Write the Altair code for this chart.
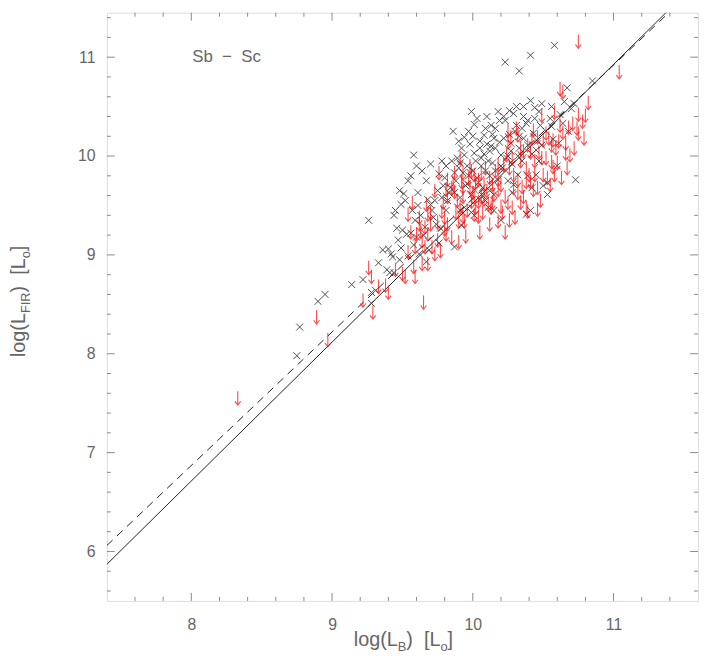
import altair as alt
import pandas as pd

# ---------------- data ----------------
cross_x = [8.75, 8.77, 8.90, 8.95, 9.14, 9.22, 9.26, 9.28, 9.31, 9.28, 9.39, 9.41, 9.44, 9.44, 9.42, 9.43, 9.40,
           9.99, 10.01, 9.86, 10.13, 9.94, 9.98, 10.05, 10.08, 9.58, 9.70, 9.56, 9.54, 9.67, 9.48, 9.51, 9.61,
           9.49, 9.61, 9.68, 9.70, 9.59, 9.46, 9.50, 9.53, 9.56, 9.74, 9.77, 9.81, 9.87, 9.49, 9.54, 9.67, 9.62,
           9.92, 10.20, 10.38, 10.41, 9.89, 9.91, 9.94, 10.01, 10.08, 10.12, 10.14, 10.09, 10.04, 10.01, 9.99,
           10.05, 10.09, 10.12, 9.90, 9.93, 9.97, 9.87, 9.84, 9.87, 9.91, 9.82, 9.94, 9.99, 10.01, 9.91, 10.11,
           10.15, 9.75, 9.78, 9.73, 9.78, 9.81,
           10.23, 10.33, 10.41, 10.58, 10.85, 10.67, 10.41, 10.49, 10.56, 10.72, 10.26, 10.29, 10.19, 10.23,
           10.36, 10.39, 10.38, 10.48, 10.52, 10.56, 10.16, 10.27, 10.33, 10.39, 10.45, 10.49, 10.20, 10.24,
           10.16, 10.21, 10.45, 10.73, 10.53, 10.15, 10.28, 10.42, 10.43, 10.57, 10.61, 10.53, 10.29, 10.18,
           10.25, 10.32, 10.39, 10.25, 10.27, 10.20,
           10.05, 10.10, 10.15, 10.02, 10.06, 10.11, 10.16, 10.30, 10.35, 10.33, 10.44, 10.46, 10.22, 10.28,
           10.35, 10.32, 9.96, 9.95, 10.03, 10.07, 9.88, 9.80, 9.76, 9.85, 9.97, 10.03, 10.10, 9.92, 10.18,
           10.14, 10.36, 10.47, 10.62, 10.65, 10.70, 9.64, 9.60, 9.52, 9.45, 9.57, 9.63, 9.72, 9.65, 9.58,
           9.47, 9.36, 9.33, 9.48,
           9.96, 10.00, 10.06, 10.13, 10.19, 10.26, 10.31, 10.36, 10.42, 10.47, 10.12, 10.07, 9.83, 9.79,
           9.71, 9.66, 9.76, 9.69, 9.60, 9.90, 10.00, 10.09, 10.22, 10.31, 10.44, 10.55, 10.64, 10.68,
           10.60, 10.50]
cross_y = [7.98, 8.27, 8.53, 8.60, 8.70, 8.75, 9.35, 8.62, 8.64, 8.51, 8.85, 8.82, 8.82, 9.40, 9.01, 8.98, 9.06,
           10.45, 10.32, 10.25, 10.31, 10.19, 10.12, 10.15, 10.21, 10.01, 9.92, 9.80, 9.75, 9.75, 9.65, 9.62, 9.63,
           9.51, 9.50, 9.56, 9.51, 9.35, 9.27, 9.25, 9.21, 9.22, 9.31, 9.27, 9.45, 9.08, 9.07, 8.99, 8.93, 9.01,
           9.30, 9.35, 9.41, 9.45, 9.98, 9.93, 10.01, 10.03, 10.02, 10.05, 9.93, 9.85, 9.73, 9.66, 9.61,
           9.56, 9.55, 9.65, 9.88, 9.83, 9.80, 9.83, 9.68, 9.63, 9.58, 9.55, 9.48, 9.43, 9.40, 9.45, 9.48,
           9.45, 9.65, 9.58, 9.55, 9.95, 9.90,
           10.95, 10.86, 11.02, 11.12, 10.76, 10.69, 10.56, 10.53, 10.50, 10.53, 10.46, 10.43, 10.36, 10.36,
           10.40, 10.36, 10.33, 10.31, 10.25, 10.30, 10.28, 10.13, 10.08, 10.11, 10.06, 10.11, 10.01, 9.98,
           9.85, 9.88, 9.81, 9.76, 9.61, 9.61, 9.63, 9.68, 10.23, 10.17, 10.13, 9.73, 9.71, 9.76,
           9.75, 9.81, 9.80, 10.00, 10.05, 9.90,
           10.08, 10.12, 10.18, 9.95, 9.90, 9.95, 10.08, 10.25, 10.28, 10.20, 10.38, 10.15, 10.18, 9.92,
           9.95, 10.00, 9.90, 9.70, 9.78, 9.68, 9.75, 9.78, 9.82, 9.95, 10.25, 10.38, 10.40, 10.08, 10.45,
           10.22, 10.50, 10.45, 10.42, 10.55, 10.48, 9.85, 9.90, 9.55, 9.45, 9.45, 9.40, 9.38, 9.20, 9.10,
           9.15, 9.05, 8.92, 8.95,
           9.72, 9.85, 9.98, 10.10, 10.14, 10.22, 10.31, 10.18, 10.02, 9.95, 9.80, 9.60, 9.63, 9.70,
           9.45, 9.28, 9.12, 9.05, 9.18, 10.15, 10.20, 10.28, 10.40, 10.50, 10.49, 10.38, 10.33, 10.25,
           9.90, 9.70]

limit_x = [8.33, 8.89, 8.97, 9.26, 9.28, 9.22, 9.29, 9.38, 9.40, 9.65,
           9.82, 9.86, 9.92, 9.93, 9.98, 10.00, 10.01, 9.99, 10.04, 10.06, 10.08, 10.11, 10.13, 10.07, 10.20,
           10.21, 10.34, 10.38, 10.39, 10.46, 10.18, 10.23, 9.95, 9.90, 9.90, 9.93, 10.01, 10.04, 9.85, 9.87,
           9.81, 9.82, 9.93, 9.91, 9.78, 9.80, 9.75, 9.70, 9.68, 9.66, 9.63, 9.60, 9.64, 9.66, 9.71, 9.73,
           9.77, 9.59, 9.54, 9.54, 9.67, 9.68, 9.82, 9.81, 9.85, 9.94, 9.64, 9.68, 9.50, 9.52, 9.59, 9.87,
           10.01, 10.04, 9.98, 9.99, 9.93, 10.08, 10.14,
           10.75, 11.04, 10.62, 10.64, 10.82, 10.75, 10.58, 10.49, 10.62, 10.64, 10.71, 10.74, 10.75, 10.25,
           10.27, 10.25, 10.31, 10.32, 10.43, 10.46, 10.50, 10.54, 10.57, 10.56, 10.59, 10.47, 10.49, 10.69,
           10.67, 10.39, 10.41, 10.22, 10.26, 10.56, 10.57, 10.50, 10.53, 10.46, 10.43, 10.38, 10.35, 10.29,
           10.32, 10.23, 10.20, 10.18, 10.40, 10.38, 10.34, 10.41, 10.29, 10.32, 10.18,
           10.02, 10.10, 10.15, 10.12, 10.16, 10.28, 10.36, 10.44, 10.52, 10.60, 10.66, 10.78, 10.79, 10.72,
           10.63, 10.55, 10.48, 10.28, 10.30, 10.12, 10.05, 9.96, 9.88, 9.75, 9.62, 9.57, 9.76, 9.91, 9.58,
           9.45, 9.33, 9.73,
           9.97, 10.06, 10.09, 10.18, 10.24, 10.34, 10.42, 10.52, 10.61, 10.68, 10.80, 10.66, 10.58, 10.44,
           10.36, 10.25, 10.14, 10.02, 9.89, 9.79, 9.70, 9.62, 9.56, 9.80, 10.26]
limit_y = [7.62, 8.44, 8.21, 8.94, 8.85, 8.61, 8.49, 8.76, 8.69, 8.59,
           9.83, 9.80, 9.81, 9.76, 9.75, 9.70, 9.65, 9.61, 9.61, 9.66, 9.63, 9.58, 9.55, 9.50, 9.56,
           9.50, 9.60, 9.55, 9.51, 9.53, 9.41, 9.30, 9.26, 9.20, 9.41, 9.46, 9.48, 9.46, 9.75, 9.71,
           9.73, 9.66, 9.66, 9.55, 9.51, 9.45, 9.40, 9.38, 9.28, 9.35, 9.31, 9.28, 9.21, 9.15, 9.15, 9.08,
           9.11, 9.15, 9.10, 9.48, 9.58, 9.48, 9.38, 9.28, 9.25, 9.41, 8.98, 8.98, 8.88, 8.85, 8.85, 9.90,
           9.88, 9.83, 9.97, 9.92, 9.90, 9.78, 9.78,
           11.23, 10.92, 10.75, 10.72, 10.61, 10.49, 10.51, 10.48, 10.38, 10.31, 10.40, 10.35, 10.30, 10.33,
           10.26, 10.21, 10.35, 10.28, 10.33, 10.26, 10.23, 10.25, 10.23, 10.18, 10.15, 10.11, 10.05, 10.08,
           9.95, 10.18, 10.11, 9.98, 9.95, 10.01, 9.96, 9.88, 9.85, 9.75, 9.73, 9.81, 9.76, 9.75,
           9.70, 9.66, 9.78, 9.73, 9.88, 9.95, 10.02, 9.81, 9.88, 9.83, 9.83,
           9.80, 9.72, 9.68, 9.85, 9.92, 10.05, 10.12, 10.02, 10.05, 10.00, 10.20, 10.42, 10.25, 10.15,
           9.85, 9.78, 9.62, 9.55, 9.45, 9.38, 9.30, 9.52, 9.50, 9.22, 9.45, 9.60, 9.90, 10.05, 8.95,
           8.92, 8.75, 9.72,
           9.84, 9.90, 9.95, 9.98, 10.08, 10.15, 10.25, 10.30, 10.22, 10.36, 10.48, 10.10, 9.88, 9.88,
           9.66, 9.60, 9.60, 9.55, 9.62, 9.60, 9.50, 9.38, 9.30, 9.33, 9.42]

fit_x = [7.4, 11.6]
fit_solid_y = [5.87, 11.77]
fit_dash_y = [6.06, 11.73]

x_major = [8, 9, 10, 11]
x_minor = [7.6, 7.8, 8.2, 8.4, 8.6, 8.8, 9.2, 9.4, 9.6, 9.8, 10.2, 10.4, 10.6, 10.8, 11.2, 11.4]
y_major = [6, 7, 8, 9, 10, 11]
y_minor = [5.6, 5.8, 6.2, 6.4, 6.6, 6.8, 7.2, 7.4, 7.6, 7.8, 8.2, 8.4, 8.6, 8.8, 9.2, 9.4, 9.6, 9.8,
           10.2, 10.4, 10.6, 10.8, 11.2, 11.4]

label_text = "Sb\u00a0\u00a0\u2212\u00a0\u00a0Sc"

# ---------------- layout / style ----------------
W, H = 598, 595
FRAME = "#8a8a8a"
TXT = "#666666"
FONT = "Liberation Sans"
xs = alt.Scale(domain=[7.4, 11.6], nice=False, zero=False)
ys = alt.Scale(domain=[5.5, 11.45], nice=False, zero=False)
AX = alt.Axis(values=x_major, format="d", ticks=False, domain=False, grid=False,
              labelPadding=16, title=None, labelFont=FONT, labelFontSize=16, labelColor=TXT)
AY = alt.Axis(values=y_major, format="d", ticks=False, domain=False, grid=False,
              labelPadding=12, title=None, labelFont=FONT, labelFontSize=16, labelColor=TXT)


def X(f):
    return alt.X(f, scale=xs, axis=AX)


def Y(f):
    return alt.Y(f, scale=ys, axis=AY)


df_cross = pd.DataFrame({"x": cross_x, "y": cross_y})
df_lim = pd.DataFrame({"x": limit_x, "y": limit_y})
df_solid = pd.DataFrame({"x": fit_x, "y": fit_solid_y})
df_dash = pd.DataFrame({"x": fit_x, "y": fit_dash_y})

X_CROSS = "M-1,-1L1,1M-1,1L1,-1"
ARROW = "M0,0L0,2M-0.42,1.45L0,2L0.42,1.45"

crosses = alt.Chart(df_cross).mark_point(
    shape=X_CROSS, filled=False, size=49, stroke="#3c3c3c", strokeWidth=1, opacity=0.9
).encode(x=X("x:Q"), y=Y("y:Q"))

arrows = alt.Chart(df_lim).mark_point(
    shape=ARROW, filled=False, size=196, stroke="#ff0000", strokeWidth=1.1
).encode(x=X("x:Q"), y=Y("y:Q"))

solid = alt.Chart(df_solid).mark_line(color="#222222", strokeWidth=1, clip=True).encode(
    x=X("x:Q"), y=Y("y:Q"))
dashed = alt.Chart(df_dash).mark_line(color="#222222", strokeWidth=1, strokeDash=[8, 6], clip=True).encode(
    x=X("x:Q"), y=Y("y:Q"))


def xticks(vals, L):
    d = pd.DataFrame({"v": vals})
    b = alt.Chart(d).mark_rule(color=FRAME, strokeWidth=1).encode(
        x=X("v:Q"), y=alt.value(H), y2=alt.value(H - L))
    t = alt.Chart(d).mark_rule(color=FRAME, strokeWidth=1).encode(
        x=X("v:Q"), y=alt.value(0), y2=alt.value(L))
    return [b, t]


def yticks(vals, L):
    d = pd.DataFrame({"v": vals})
    l = alt.Chart(d).mark_rule(color=FRAME, strokeWidth=1).encode(
        y=Y("v:Q"), x=alt.value(0), x2=alt.value(L))
    r = alt.Chart(d).mark_rule(color=FRAME, strokeWidth=1).encode(
        y=Y("v:Q"), x=alt.value(W), x2=alt.value(W - L))
    return [l, r]


ticks = xticks(x_major, 8) + xticks(x_minor, 4) + yticks(y_major, 8) + yticks(y_minor, 4)

note = alt.Chart(pd.DataFrame({"t": [label_text], "x": [8.25], "y": [11.0]})).mark_text(
    font=FONT, fontSize=17, color=TXT, align="center", baseline="middle"
).encode(x=X("x:Q"), y=Y("y:Q"), text="t:N")

# ---- axis titles with subscripts, built from text pieces ----
F, S = 20, 13
WID = {"l": .222, "o": .556, "g": .556, "(": .333, ")": .333, "L": .556, "\u00a0": .278, "[": .278,
       "]": .278, "F": .611, "I": .278, "R": .722, "B": .667}


def tw(s, size):
    return sum(WID.get(c, .55) for c in s) * size


def title_pieces(sub1):
    return [("log(L", F, 0), (sub1, S, 1), (")\u00a0\u00a0[L", F, 0), ("o", S, 1), ("]", F, 0)]


title_layers = []
# x title (horizontal)
pieces = title_pieces("B")
total = sum(tw(p, s) for p, s, _ in pieces)
cx, by = 300, 641
pos = cx - total / 2
for p, s, sub in pieces:
    title_layers.append(
        alt.Chart(pd.DataFrame({"t": [p]})).mark_text(
            font=FONT, fontSize=s, color=TXT, align="left", baseline="alphabetic"
        ).encode(text="t:N", x=alt.value(pos), y=alt.value(by + (5 if sub else 0)))
    )
    pos += tw(p, s)

# y title (rotated, reading upwards)
pieces = title_pieces("FIR")
total = sum(tw(p, s) for p, s, _ in pieces)
cy, bx = 292, -83
pos = cy + total / 2
for p, s, sub in pieces:
    title_layers.append(
        alt.Chart(pd.DataFrame({"t": [p]})).mark_text(
            font=FONT, fontSize=s, color=TXT, align="left", baseline="alphabetic", angle=270
        ).encode(text="t:N", x=alt.value(bx + (5 if sub else 0)), y=alt.value(pos))
    )
    pos -= tw(p, s)

chart = alt.layer(
    crosses, *ticks, solid, dashed, arrows, note, *title_layers
).properties(
    width=W, height=H,
    autosize=alt.AutoSizeParams(type="none"),
    padding={"left": 100, "top": 1, "right": 1, "bottom": 52},
).configure_view(
    stroke=FRAME, strokeWidth=1
).configure(background="white")

chart.save("out.html", embed_options={"renderer": "svg", "actions": False})
